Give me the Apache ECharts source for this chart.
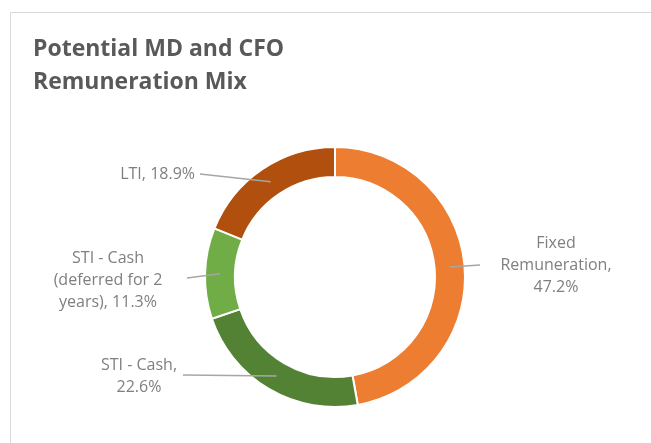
<!DOCTYPE html>
<html>
<head>
<meta charset="utf-8">
<script src="https://cdn.jsdelivr.net/npm/echarts@6/dist/echarts.min.js"></script>
<style>
  html, body { margin: 0; padding: 0; background: #fff; }
  #chart { width: 651px; height: 443px; }
</style>
</head>
<body>
<div id="chart"></div>
<script>
// data
const categories = ['Fixed Remuneration', 'STI - Cash', 'STI - Cash (deferred for 2 years)', 'LTI']
const shares = [47.2, 22.6, 11.3, 18.9]
const labelTexts = ['Fixed\nRemuneration,\n47.2%', 'STI - Cash,\n22.6%', 'STI - Cash\n(deferred for 2\nyears), 11.3%', 'LTI, 18.9%']
const colors = ['#ED7D31', '#548235', '#70AD47', '#B04F0E']

const center = [335, 277]
const radius = [100, 130]
// inner half of the ring, only used to hang the labels and leader lines on
const labelRadius = [100, 115]

// where each label sits, and the end of its leader line
const labelSpots = [
  { x: 556, y: 265, align: 'center', lineEnd: [480, 265] },
  { x: 139, y: 376, align: 'center', lineEnd: [183, 375] },
  { x: 108, y: 280, align: 'center', lineEnd: [187, 278] },
  { x: 195, y: 174, align: 'right', lineEnd: [200, 174] },
]

const total = shares.reduce((a, b) => a + b, 0)
// mid-ring point of a slice, angle measured clockwise from the top
function midRing(index) {
  let before = 0
  for (let i = 0; i < index; i++) before += shares[i]
  const ang = ((before + shares[index] / 2) / total) * Math.PI * 2
  const r = labelRadius[1]
  return [center[0] + r * Math.sin(ang), center[1] - r * Math.cos(ang)]
}

const chart = echarts.init(document.getElementById('chart'), null, { renderer: 'canvas' })
const option = {
  animation: false,
  title: {
    text: 'Potential MD and CFO\nRemuneration Mix',
    left: 28,
    top: 28,
    textStyle: {
      fontFamily: 'Open Sans',
      fontWeight: 'bold',
      fontSize: 23,
      lineHeight: 33,
      color: '#595959',
    },
  },
  graphic: [
    {
      // chart frame
      type: 'rect',
      shape: { x: 10.5, y: 12.5, width: 700, height: 500 },
      style: { fill: 'none', stroke: '#d9d9d9', lineWidth: 1 },
      silent: true,
    },
  ],
  series: [
    {
      // the ring
      type: 'pie',
      z: 2,
      center: center,
      radius: radius,
      startAngle: 90,
      clockwise: true,
      label: { show: false },
      labelLine: { show: false },
      itemStyle: {
        borderColor: '#fff',
        borderWidth: 2,
      },
      emphasis: { disabled: true },
      data: categories.map((name, i) => ({
        name: name,
        value: shares[i],
        itemStyle: { color: colors[i] },
      })),
    },
    {
      // labels + leader lines, drawn over the ring
      type: 'pie',
      z: 3,
      silent: true,
      center: center,
      radius: labelRadius,
      startAngle: 90,
      clockwise: true,
      avoidLabelOverlap: false,
      itemStyle: { color: 'rgba(0,0,0,0)', borderWidth: 0 },
      label: {
        show: true,
        formatter: (p) => labelTexts[p.dataIndex],
        fontFamily: 'Open Sans',
        fontSize: 16,
        lineHeight: 22,
        color: '#7f7f7f',
      },
      labelLine: {
        show: true,
        showAbove: true,
        lineStyle: { color: '#a6a6a6', width: 1.5, opacity: 1 },
      },
      labelLayout: (params) => {
        const spot = labelSpots[params.dataIndex]
        return {
          x: spot.x,
          y: spot.y,
          align: spot.align,
          verticalAlign: 'middle',
          labelLinePoints: [midRing(params.dataIndex), spot.lineEnd, spot.lineEnd],
        }
      },
      emphasis: { disabled: true },
      data: categories.map((name, i) => ({ name: name, value: shares[i] })),
    },
  ],
}
chart.setOption(option)
</script>
</body>
</html>
